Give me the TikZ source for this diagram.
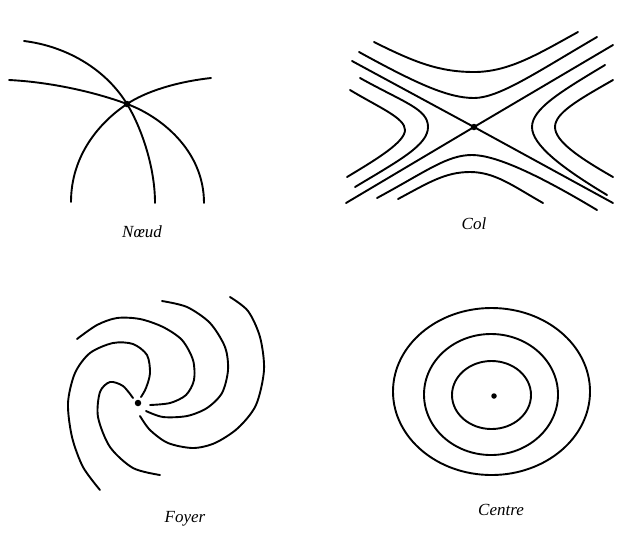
\documentclass[tikz,border=0pt]{standalone}
\usepackage{fontspec}
\setmainfont{Liberation Serif}
\begin{document}
\begin{tikzpicture}[x=1pt,y=-1pt,
  curve/.style={line width=1.9pt, line cap=round, line join=round},
  lbl/.style={font=\fontsize{17}{20}\selectfont\itshape, anchor=base, inner sep=0pt},
  dot/.style={fill, circle, inner sep=0pt, minimum size=6.5pt}]
\useasboundingbox[fill=white] (0,0) rectangle (617,542);

% ---------- Noeud ----------
\coordinate (N) at (127,104);
\draw[curve] (24,41) .. controls (65,46) and (105,68) .. (N) .. controls (140,125) and (155,165) .. (155,203);
\draw[curve] (9,80) .. controls (50,82) and (95,92) .. (N) .. controls (160,116) and (204,150) .. (204,203);
\draw[curve] (211,78) .. controls (175,82) and (145,92) .. (N) .. controls (100,122) and (71,155) .. (71,202);
\node[dot] (Ndot) at (N) {};
\node[lbl] (Nlab) at (142,237) {Nœud};

% ---------- Col ----------
\coordinate (C) at (474,127);
\draw[curve] (352,61) -- (C) -- (613,203);
\draw[curve] (346,203) -- (C) -- (613,45);
% top family
\draw[curve] (374,42) .. controls (414,62) and (439,72) .. (474,72) .. controls (509,72) and (538,54) .. (578,32);
\draw[curve] (359,52) .. controls (419,85) and (449,98) .. (474,98) .. controls (499,98) and (537,72) .. (597,37);
% bottom family
\draw[curve] (377,198) .. controls (427,171) and (447,155) .. (472,155) .. controls (497,155) and (542,177) .. (597,210);
\draw[curve] (398,199) .. controls (428,183) and (445,172) .. (470,172) .. controls (495,172) and (513,186) .. (543,203);
% left family
\draw[curve] (360,78) .. controls (405,103) and (428,109) .. (428,127) .. controls (428,145) and (400,160) .. (355,187);
\draw[curve] (350,90) .. controls (380,108) and (405,118) .. (405,130) .. controls (405,142) and (377,159) .. (347,177);
% right family
\draw[curve] (605,65) .. controls (560,92) and (532,109) .. (532,127) .. controls (532,145) and (562,168) .. (607,195);
\draw[curve] (613,80) .. controls (578,100) and (555,113) .. (555,127) .. controls (555,141) and (578,157) .. (613,177);
\node[dot] (Cdot) at (C) {};
\node[lbl] (Clab) at (474,229) {Col};

% ---------- Foyer ----------
\coordinate (F) at (138,403);
\draw[curve] plot[smooth] coordinates {(77,339) (97,325) (117,318) (140,319) (163,327) (182,340) (193,360) (194,380) (186,395) (170,403) (150,405)};
\draw[curve] plot[smooth] coordinates {(100,490) (83,467) (72,437) (68,403) (75,373) (90,353) (113,343) (133,344) (147,355) (150,373) (146,388) (141,397)};
\draw[curve] plot[smooth] coordinates {(160,475) (133,468) (110,447) (98,417) (100,392) (110,382) (123,386) (133,398)};
\draw[curve] plot[smooth] coordinates {(162,301) (187,307) (210,323) (225,347) (228,370) (222,393) (207,408) (187,416) (163,417) (146,411)};
\draw[curve] plot[smooth] coordinates {(230,297) (248,311) (260,337) (264,370) (256,405) (238,428) (215,443) (193,448) (168,443) (150,430) (140,416)};
\node[dot] (Fdot) at (F) {};
\node[lbl] (Flab) at (185,522) {Foyer};

% ---------- Centre ----------
\coordinate (Z) at (494,396);
\draw[curve] (491.5,391.5) ellipse [x radius=98.5, y radius=83.5];
\draw[curve] (491,394.5) ellipse [x radius=67, y radius=60.5];
\draw[curve] (491.5,395) ellipse [x radius=39.5, y radius=34];
\node[dot, minimum size=5.5pt] (Zdot) at (Z) {};
\node[lbl] (Zlab) at (501,515) {Centre};
\end{tikzpicture}
\end{document}
